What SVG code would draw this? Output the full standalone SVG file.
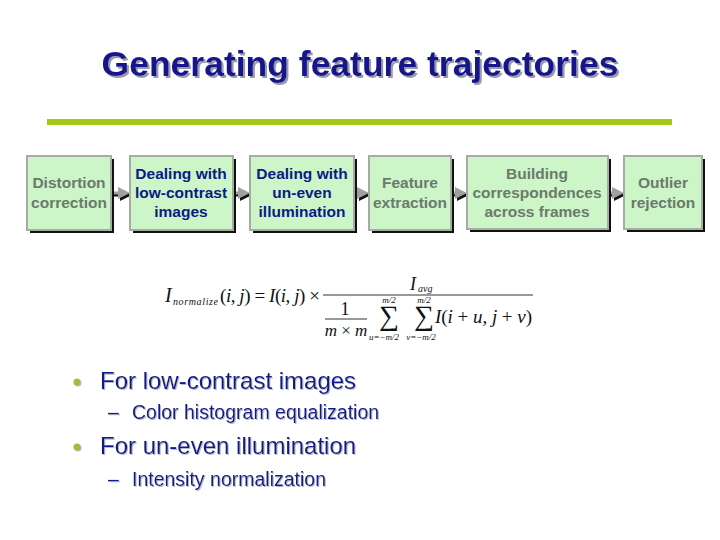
<svg xmlns="http://www.w3.org/2000/svg" width="720" height="540" viewBox="0 0 720 540">
<defs>
<style>
.box{fill:#ccf5c8;stroke:#a4aca4;stroke-width:2}
.shd{fill:#111}
.t{font-family:"Liberation Sans",Arial,sans-serif;font-size:15.5px;font-weight:bold;text-anchor:middle}
.g{fill:#6b7a6b}
.n{fill:#0c1a86}
.title{font-family:"Liberation Sans",Arial,sans-serif;font-size:35.5px;font-weight:bold;text-anchor:middle;fill:#14168c}
.bl{font-family:"Liberation Sans",Arial,sans-serif;font-size:24px;fill:#101a8a}
.sb{font-family:"Liberation Sans",Arial,sans-serif;font-size:19.5px;fill:#101a8a}
.m{font-family:"Liberation Serif","Times New Roman",serif;font-style:italic;fill:#111}
.mr{font-family:"Liberation Serif","Times New Roman",serif;fill:#111}
.arr{stroke:#a0a0a0;stroke-width:3;fill:none}
.arrs{stroke:#111;stroke-width:3;fill:none}
</style>
<filter id="ts" x="-5%" y="-20%" width="110%" height="140%"><feDropShadow dx="2" dy="2" stdDeviation="0.6" flood-color="#9a9aac" flood-opacity="1"/></filter>
<filter id="bs" x="-5%" y="-20%" width="110%" height="140%"><feDropShadow dx="1" dy="1" stdDeviation="0.4" flood-color="#b0b0c0" flood-opacity="0.9"/></filter>
<marker id="ah" markerWidth="4" markerHeight="4" refX="2" refY="2" orient="auto" markerUnits="strokeWidth"><path d="M0,0 L4,2 L0,4 z" fill="#a0a0a0"/></marker>
<marker id="ahs" markerWidth="4" markerHeight="4" refX="2" refY="2" orient="auto" markerUnits="strokeWidth"><path d="M0,0 L4,2 L0,4 z" fill="#111"/></marker>
</defs>
<rect width="720" height="540" fill="#fff"/>
<g id="title">
<text class="title" x="360" y="76" filter="url(#ts)">Generating feature trajectories</text>
<rect x="47" y="119" width="625" height="6" fill="#a3c914"/>
</g>
<g id="connectors">
<line class="arrs" x1="114" y1="195" x2="126" y2="195" marker-end="url(#ahs)"/>
<line class="arr" x1="112" y1="193" x2="124" y2="193" marker-end="url(#ah)"/>
<line class="arrs" x1="236" y1="195" x2="246" y2="195" marker-end="url(#ahs)"/>
<line class="arr" x1="234" y1="193" x2="244" y2="193" marker-end="url(#ah)"/>
<line class="arrs" x1="357" y1="195" x2="365" y2="195" marker-end="url(#ahs)"/>
<line class="arr" x1="355" y1="193" x2="363" y2="193" marker-end="url(#ah)"/>
<line class="arrs" x1="454" y1="195" x2="463" y2="195" marker-end="url(#ahs)"/>
<line class="arr" x1="452" y1="193" x2="461" y2="193" marker-end="url(#ah)"/>
<line class="arrs" x1="611" y1="195" x2="620" y2="195" marker-end="url(#ahs)"/>
<line class="arr" x1="609" y1="193" x2="618" y2="193" marker-end="url(#ah)"/>
</g>
<g id="n1">
<rect class="shd" x="30" y="159" width="84" height="74"/>
<rect class="box" x="27" y="156" width="84" height="74"/>
<text class="t g" x="69" y="188">Distortion</text>
<text class="t g" x="69" y="208">correction</text>
</g>
<g id="n2">
<rect class="shd" x="133" y="159" width="103" height="74"/>
<rect class="box" x="130" y="156" width="103" height="74"/>
<text class="t n" x="181" y="179">Dealing with</text>
<text class="t n" x="181" y="198">low-contrast</text>
<text class="t n" x="181" y="217">images</text>
</g>
<g id="n3">
<rect class="shd" x="253" y="159" width="104" height="74"/>
<rect class="box" x="250" y="156" width="104" height="74"/>
<text class="t n" x="302" y="179">Dealing with</text>
<text class="t n" x="302" y="198">un-even</text>
<text class="t n" x="302" y="217">illumination</text>
</g>
<g id="n4">
<rect class="shd" x="372" y="159" width="82" height="74"/>
<rect class="box" x="369" y="156" width="82" height="74"/>
<text class="t g" x="410" y="188">Feature</text>
<text class="t g" x="410" y="208">extraction</text>
</g>
<g id="n5">
<rect class="shd" x="470" y="159" width="141" height="73"/>
<rect class="box" x="467" y="156" width="141" height="73"/>
<text class="t g" x="537" y="179">Building</text>
<text class="t g" x="537" y="198">correspondences</text>
<text class="t g" x="537" y="217">across frames</text>
</g>
<g id="n6">
<rect class="shd" x="627" y="159" width="78" height="73"/>
<rect class="box" x="624" y="156" width="78" height="73"/>
<text class="t g" x="663" y="188">Outlier</text>
<text class="t g" x="663" y="208">rejection</text>
</g>
<g id="formula">
<text class="m" x="165" y="302" font-size="20">I</text>
<text class="m" x="173" y="305" font-size="10" textLength="45">normalize</text>
<text class="mr" x="220" y="302" font-size="19" textLength="100">(<tspan font-style="italic">i</tspan>, <tspan font-style="italic">j</tspan>) = <tspan font-style="italic">I</tspan>(<tspan font-style="italic">i</tspan>, <tspan font-style="italic">j</tspan>) ×</text>
<line x1="323" y1="295" x2="533" y2="295" stroke="#333" stroke-width="1"/>
<text class="m" x="410" y="290" font-size="18">I</text>
<text class="m" x="418" y="292" font-size="10">avg</text>
<text class="mr" x="345" y="315" font-size="18" text-anchor="middle">1</text>
<line x1="325" y1="319" x2="367" y2="319" stroke="#333" stroke-width="1"/>
<text class="mr" x="346" y="336" font-size="17" text-anchor="middle"><tspan font-style="italic">m</tspan> × <tspan font-style="italic">m</tspan></text>
<text class="mr" x="389" y="325" font-size="28" text-anchor="middle">∑</text>
<text class="m" x="389" y="303" font-size="9" text-anchor="middle">m/2</text>
<text class="m" x="384" y="340" font-size="9" text-anchor="middle">u=−m/2</text>
<text class="mr" x="424" y="325" font-size="28" text-anchor="middle">∑</text>
<text class="m" x="424" y="303" font-size="9" text-anchor="middle">m/2</text>
<text class="m" x="421" y="340" font-size="9" text-anchor="middle">v=−m/2</text>
<text class="mr" x="435" y="323" font-size="19" textLength="97"><tspan font-style="italic">I</tspan>(<tspan font-style="italic">i</tspan> + <tspan font-style="italic">u</tspan>, <tspan font-style="italic">j</tspan> + <tspan font-style="italic">v</tspan>)</text>
</g>
<g id="bullets" filter="url(#bs)">
<circle cx="77" cy="382" r="3.5" fill="#9cbf3a"/>
<text class="bl" x="100" y="389">For low-contrast images</text>
<text class="sb" x="108" y="419">–</text>
<text class="sb" x="132" y="419">Color histogram equalization</text>
<circle cx="77" cy="447" r="3.5" fill="#9cbf3a"/>
<text class="bl" x="100" y="454">For un-even illumination</text>
<text class="sb" x="108" y="486">–</text>
<text class="sb" x="132" y="486">Intensity normalization</text>
</g>
</svg>
